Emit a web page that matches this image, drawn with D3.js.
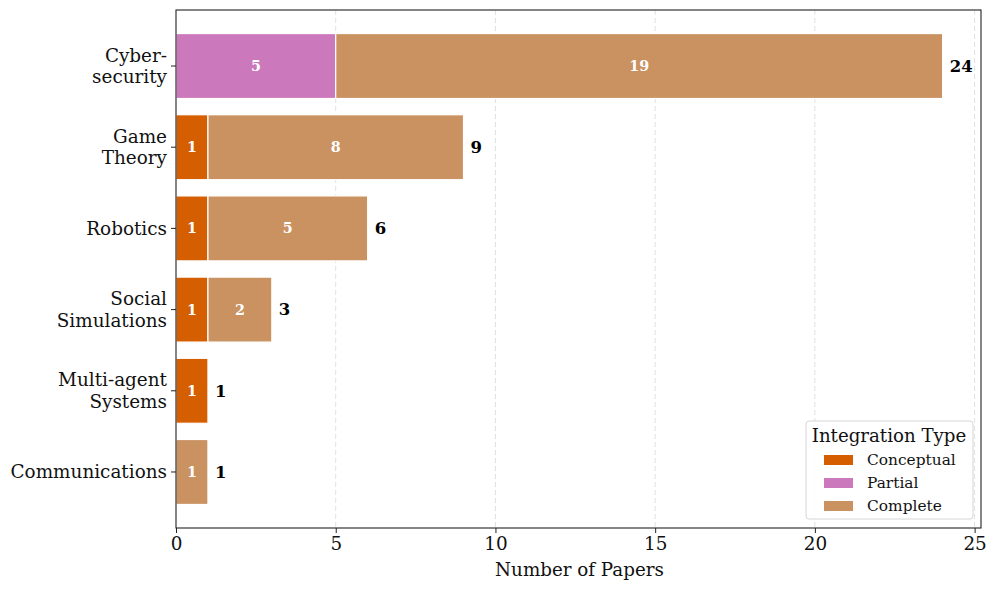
<!DOCTYPE html>
<html><head><meta charset="utf-8">
<script src="https://cdn.jsdelivr.net/npm/d3@7"></script>
<style>body{margin:0;background:#fff}svg{font-family:"DejaVu Serif",serif}</style>
</head><body><svg id="c" width="997" height="589"></svg>
<script>
const categories = ["Cyber-\nsecurity","Game\nTheory","Robotics","Social\nSimulations","Multi-agent\nSystems","Communications"];
const conceptual = [0,1,1,1,1,0];
const partial = [5,0,0,0,0,0];
const complete = [19,8,5,2,0,1];
const seriesNames = ["Conceptual","Partial","Complete"];
const seriesColors = ["#d55e00","#cc78bc","#ca9161"];
const xTicks = [0,5,10,15,20,25];

const svg = d3.select("#c");
const L=176,R=981,T=10,B=528;
const totals = categories.map((c,i)=>conceptual[i]+partial[i]+complete[i]);
const x = d3.scaleLinear().domain([0, d3.max(totals)*1.05]).range([L,R]);
const y = d3.scaleLinear().domain([-0.69, 5.69]).range([T,B]);
const bh = y(0.4)-y(-0.4);

// grid
svg.append("g").selectAll("line").data(xTicks.filter(d=>d>0)).join("line")
  .attr("x1",d=>x(d)).attr("x2",d=>x(d)).attr("y1",T).attr("y2",B)
  .attr("stroke","#dcdcdc").attr("stroke-dasharray","5,3").attr("stroke-width",0.9);

const data = [conceptual, partial, complete];
const g = svg.append("g");
categories.forEach((c,i)=>{
  let cum=0;
  data.forEach((arr,s)=>{
    const v=arr[i];
    if(v>0){
      g.append("rect").attr("x",x(cum)).attr("y",y(i)-bh/2).attr("width",x(cum+v)-x(cum)).attr("height",bh)
        .attr("fill",seriesColors[s]).attr("stroke","#fff").attr("stroke-width",1.2);
      g.append("text").attr("x",x(cum+v/2)).attr("y",y(i)).attr("dy","0.35em").attr("text-anchor","middle")
        .attr("fill","#fff").attr("font-weight","bold").attr("font-size",14.3).text(v);
    }
    cum+=v;
  });
  g.append("text").attr("x",x(totals[i])+7).attr("y",y(i)).attr("dy","0.35em")
    .attr("font-weight","bold").attr("font-size",16.5).attr("fill","#000").text(totals[i]);
});

// frame
svg.append("rect").attr("x",L).attr("y",T).attr("width",R-L).attr("height",B-T)
  .attr("fill","none").attr("stroke","#222").attr("stroke-width",1.1);

// x axis
const xa = svg.append("g").attr("transform",`translate(0,${B})`)
  .call(d3.axisBottom(x).tickValues(xTicks).tickSize(5).tickPadding(4).tickFormat(d3.format("d")));
xa.select(".domain").remove();
xa.selectAll("line").attr("stroke","#222");
xa.selectAll("text").attr("font-size",18.4).attr("font-family","DejaVu Serif").attr("fill","#111");
svg.append("text").attr("x",(L+R)/2+1).attr("y",576).attr("text-anchor","middle")
  .attr("font-size",18.3).attr("fill","#111").text("Number of Papers");

// y axis
const ya = svg.append("g");
categories.forEach((c,i)=>{
  ya.append("line").attr("x1",L-5).attr("x2",L).attr("y1",y(i)).attr("y2",y(i)).attr("stroke","#222");
  const lines=c.split("\n");
  const lh=21.5;
  const t=ya.append("text").attr("text-anchor","end").attr("font-size",18.4).attr("fill","#111");
  lines.forEach((ln,k)=>{
    t.append("tspan").attr("x",L-9).attr("y",y(i)+(k-(lines.length-1)/2)*lh).attr("dy","0.35em").text(ln);
  });
});

// legend
const lg = svg.append("g");
lg.append("rect").attr("x",806).attr("y",421).attr("width",167).attr("height",98).attr("rx",3)
  .attr("fill","#fff").attr("fill-opacity",0.85).attr("stroke","#d6d6d6");
lg.append("text").attr("x",889).attr("y",442).attr("text-anchor","middle").attr("font-size",18.2).attr("fill","#111").text("Integration Type");
seriesNames.forEach((n,k)=>{
  const yy=460+k*23;
  lg.append("rect").attr("x",824).attr("y",yy-5).attr("width",29).attr("height",10).attr("fill",seriesColors[k]);
  lg.append("text").attr("x",867).attr("y",yy).attr("dy","0.35em").attr("font-size",15.4).attr("fill","#111").text(n);
});
</script></body></html>
